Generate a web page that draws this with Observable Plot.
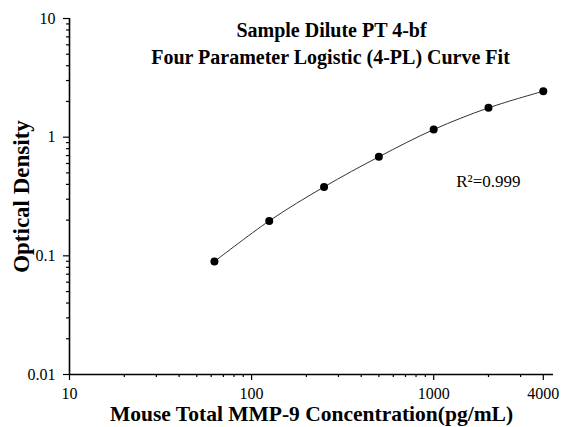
<!DOCTYPE html>
<html><head><meta charset="utf-8">
<script src="https://cdn.jsdelivr.net/npm/d3@7"></script>
<script src="https://cdn.jsdelivr.net/npm/@observablehq/plot@0.6"></script>
<style>body{margin:0;background:#fff} svg{display:block}</style>
</head><body><div id="chart"></div>
<script>
const conc = [62.5, 125, 250, 500, 1000, 2000, 4000];
const od = [0.0895, 0.197, 0.381, 0.683, 1.159, 1.766, 2.44];
const xTicks = [10, 100, 1000, 4000];
const yTicks = [0.01, 0.1, 1, 10];
const titleLines = ["Sample Dilute PT 4-bf", "Four Parameter Logistic (4-PL) Curve Fit"];
const xLabel = "Mouse Total MMP-9 Concentration(pg/mL)";
const yLabel = "Optical Density";
const r2Text = "R²=0.999";
const r2Pos = {x: 1330, y: 0.42};

const data = conc.map((c, i) => ({x: c, y: od[i]}));
const xMinor = [];
for (const d of [10, 100, 1000]) for (let k = 2; k <= 9; k++) if (d * k < 4000) xMinor.push(d * k);
const yMinor = [];
for (const d of [0.01, 0.1, 1]) for (let k = 2; k <= 9; k++) yMinor.push(d * k);

const font = "Liberation Serif, Times New Roman, serif";
const chart = Plot.plot({
  width: 561, height: 427,
  marginLeft: 69, marginRight: 8, marginTop: 18, marginBottom: 53,
  style: {fontFamily: font, color: "#000", background: "#fff", fontSize: "16px"},
  x: {type: "log", domain: [10, 4550]},
  y: {type: "log", domain: [0.01, 10]},
  marks: [
    Plot.axisX(xMinor, {tickSize: 3, text: null, label: null, strokeWidth: 1.2}),
    Plot.axisY(yMinor, {tickSize: 3, text: null, label: null, strokeWidth: 1.2}),
    Plot.axisX(xTicks, {tickSize: 6, text: null, label: null, strokeWidth: 1.2}),
    Plot.axisY(yTicks, {tickSize: 6, text: null, label: null, strokeWidth: 1.2}),
    Plot.text(xTicks, {x: d => d, text: d => String(d), frameAnchor: "bottom", lineAnchor: "middle", dy: 19, fontSize: 16}),
    Plot.text(yTicks, {y: d => d, text: d => String(d), frameAnchor: "left", textAnchor: "end", dx: -14, fontSize: 16}),
    Plot.ruleX([10], {stroke: "#000", strokeWidth: 1.6}),
    Plot.ruleY([0.01], {stroke: "#000", strokeWidth: 1.6}),
    Plot.line(data, {x: "x", y: "y", curve: "catmull-rom", stroke: "#333", strokeWidth: 1}),
    Plot.dot(data, {x: "x", y: "y", r: 4, fill: "#000", stroke: "none"}),
    Plot.text([r2Pos], {x: "x", y: "y", text: () => r2Text, textAnchor: "start", fontSize: 17}),
    Plot.text([titleLines[0]], {frameAnchor: "top", lineAnchor: "middle", dx: 20, dy: 12, fontSize: 20, fontWeight: "bold"}),
    Plot.text([titleLines[1]], {frameAnchor: "top", lineAnchor: "middle", dx: 19, dy: 39, fontSize: 20, fontWeight: "bold"}),
    Plot.text([xLabel], {frameAnchor: "bottom", lineAnchor: "middle", dy: 40, fontSize: 21.5, fontWeight: "bold"}),
    Plot.text([yLabel], {frameAnchor: "left", textAnchor: "middle", lineAnchor: "middle", dx: -48, rotate: -90, fontSize: 23, fontWeight: "bold"})
  ]
});
document.getElementById("chart").append(chart);
</script>
</body></html>
